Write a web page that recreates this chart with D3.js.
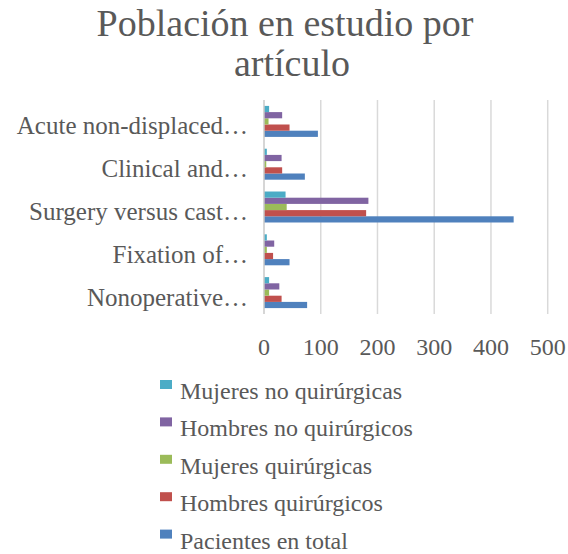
<!DOCTYPE html>
<html>
<head>
<meta charset="utf-8">
<script src="https://cdn.jsdelivr.net/npm/d3@7"></script>
<style>
  body { margin: 0; background: #fff; }
  text { font-family: "Liberation Serif", "DejaVu Serif", serif; fill: #595959; }
</style>
</head>
<body>
<div id="chart"></div>
<script>
// chart data
var categories = ['Acute non-displaced…', 'Clinical and…', 'Surgery versus cast…', 'Fixation of…', 'Nonoperative…'];
var seriesNames = ['Pacientes en total', 'Hombres quirúrgicos', 'Mujeres quirúrgicas', 'Hombres no quirúrgicos', 'Mujeres no quirúrgicas'];
var colors = ['#4F81BD', '#C0504D', '#9BBB59', '#8064A2', '#4BACC6'];
// one array per series, in the order of categories
var pacientesTotal = [95, 72, 440, 45, 76];
var hombresQuir = [45, 32, 180, 16, 31];
var mujeresQuir = [8, 4, 40, 5, 9];
var hombresNoQuir = [32, 31, 184, 18, 27];
var mujeresNoQuir = [9, 5, 38, 5, 9];
var xTicks = [0, 100, 200, 300, 400, 500];

var seriesValues = [pacientesTotal, hombresQuir, mujeresQuir, hombresNoQuir, mujeresNoQuir];

var width = 568, height = 554;
var plotLeft = 264, plotRight = 547.7, plotTop = 100, plotBottom = 314;

var svg = d3.select('#chart')
  .append('svg')
  .attr('width', width)
  .attr('height', height);

// title
var title = svg.append('text')
  .attr('text-anchor', 'middle')
  .style('font-size', '38px');
title.append('tspan').attr('x', 285).attr('y', 36).text('Población en estudio por');
title.append('tspan').attr('x', 292).attr('y', 76).text('artículo');

var x = d3.scaleLinear()
  .domain([0, 500])
  .range([plotLeft, plotRight]);

var y = d3.scaleBand()
  .domain(categories)
  .range([plotTop, plotBottom])
  .paddingInner(0.276)
  .paddingOuter(0.138);

// first series sits at the bottom of each group
var ySeries = d3.scaleBand()
  .domain(seriesNames.slice().reverse())
  .range([0, y.bandwidth()]);

// gridlines
svg.append('g')
  .selectAll('line')
  .data(xTicks.slice(1))
  .enter()
  .append('line')
  .attr('x1', function (d) { return x(d); })
  .attr('x2', function (d) { return x(d); })
  .attr('y1', plotTop)
  .attr('y2', plotBottom)
  .attr('stroke', '#d9d9d9')
  .attr('stroke-width', 1.5);

// bars
var bars = [];
seriesNames.forEach(function (s, i) {
  categories.forEach(function (c, j) {
    bars.push({ series: s, cat: c, value: seriesValues[i][j], color: colors[i] });
  });
});

svg.append('g')
  .selectAll('rect')
  .data(bars)
  .enter()
  .append('rect')
  .attr('x', x(0))
  .attr('y', function (d) { return y(d.cat) + ySeries(d.series); })
  .attr('width', function (d) { return x(d.value) - x(0); })
  .attr('height', ySeries.bandwidth())
  .attr('fill', function (d) { return d.color; });

// vertical axis line
svg.append('line')
  .attr('x1', x(0)).attr('x2', x(0))
  .attr('y1', plotTop).attr('y2', plotBottom)
  .attr('stroke', '#c8c8c8')
  .attr('stroke-width', 1.5);

// category labels
svg.append('g')
  .selectAll('text')
  .data(categories)
  .enter()
  .append('text')
  .attr('x', 248)
  .attr('y', function (d) { return y(d) + y.bandwidth() / 2 + 13; })
  .attr('text-anchor', 'end')
  .style('font-size', '25px')
  .text(function (d) { return d; });

// x tick labels
svg.append('g')
  .selectAll('text')
  .data(xTicks)
  .enter()
  .append('text')
  .attr('x', function (d) { return x(d); })
  .attr('y', 355)
  .attr('text-anchor', 'middle')
  .style('font-size', '24px')
  .text(function (d) { return d; });

// legend, listed in reverse series order
var legendData = seriesNames.map(function (s, i) { return { name: s, color: colors[i] }; }).reverse();
var legend = svg.append('g')
  .selectAll('g')
  .data(legendData)
  .enter()
  .append('g')
  .attr('transform', function (d, i) { return 'translate(0,' + (399 + i * 37.4) + ')'; });

legend.append('rect')
  .attr('x', 160)
  .attr('y', -19)
  .attr('width', 12)
  .attr('height', 9)
  .attr('fill', function (d) { return d.color; });

legend.append('text')
  .attr('x', 180)
  .attr('y', 0)
  .style('font-size', '24px')
  .text(function (d) { return d.name; });
</script>
</body>
</html>
